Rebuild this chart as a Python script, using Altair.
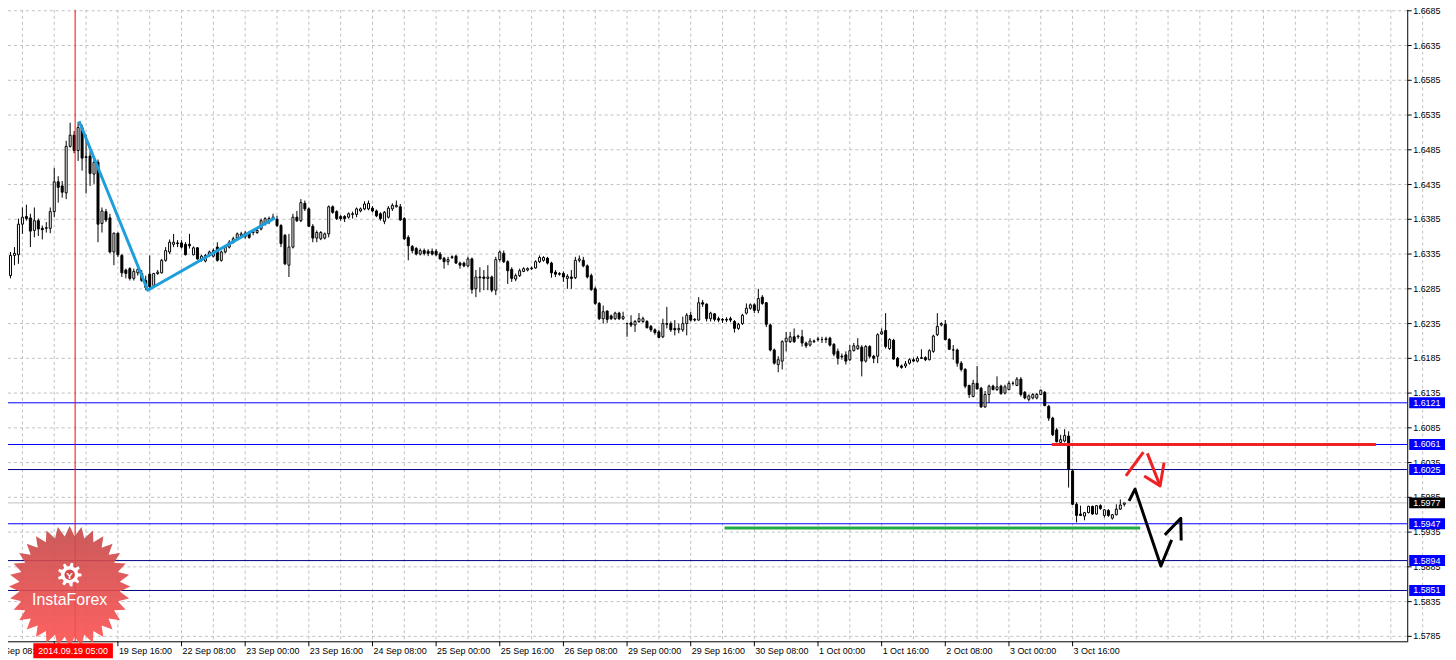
import altair as alt
import pandas as pd
import numpy as np

# ---------------- candle data (hourly bars, index = bar number) ----------------
opens = [1.6295,1.6302,1.6304,1.6333,1.6334,1.6378,1.6389,1.6387,1.6369,1.6383,
1.6372,1.6372,1.6372,1.6396,1.6439,1.6433,1.6423,1.6490,1.6506,1.6484,
1.6517,1.6475,1.6476,1.6450,1.6467,1.6379,1.6396,1.6387,1.6338,1.6365,
1.6333,1.6312,1.6314,1.6300,1.6308,1.6307,1.6297,1.6306,1.6290,1.6307,
1.6308,1.6326,1.6338,1.6349,1.6351,1.6351,1.6349,1.6349,1.6334,1.6344,
1.6326,1.6325,1.6333,1.6332,1.6345,1.6326,1.6338,1.6345,1.6352,1.6358,
1.6362,1.6360,1.6366,1.6366,1.6366,1.6371,1.6378,1.6381,1.6386,1.6385,
1.6376,1.6362,1.6319,1.6345,1.6388,1.6383,1.6408,1.6400,1.6375,1.6358,
1.6357,1.6358,1.6364,1.6403,1.6396,1.6389,1.6389,1.6388,1.6392,1.6392,
1.6397,1.6400,1.6400,1.6401,1.6397,1.6393,1.6382,1.6388,1.6400,1.6403,
1.6403,1.6386,1.6359,1.6346,1.6343,1.6335,1.6340,1.6339,1.6339,1.6339,
1.6335,1.6329,1.6324,1.6331,1.6332,1.6322,1.6322,1.6318,1.6328,1.6285,
1.6302,1.6302,1.6300,1.6302,1.6283,1.6327,1.6336,1.6324,1.6313,1.6299,
1.6304,1.6310,1.6312,1.6314,1.6315,1.6324,1.6326,1.6329,1.6322,1.6309,
1.6307,1.6307,1.6300,1.6302,1.6301,1.6326,1.6326,1.6318,1.6304,1.6285,
1.6264,1.6242,1.6253,1.6246,1.6242,1.6250,1.6242,1.6235,1.6236,1.6233,
1.6238,1.6238,1.6238,1.6231,1.6226,1.6223,1.6216,1.6235,1.6235,1.6228,
1.6226,1.6226,1.6235,1.6247,1.6241,1.6240,1.6265,1.6263,1.6242,1.6249,
1.6242,1.6241,1.6241,1.6242,1.6238,1.6228,1.6235,1.6250,1.6257,1.6262,
1.6254,1.6273,1.6265,1.6233,1.6197,1.6176,1.6181,1.6209,1.6209,1.6216,
1.6216,1.6216,1.6207,1.6204,1.6209,1.6212,1.6212,1.6213,1.6214,1.6205,
1.6195,1.6188,1.6190,1.6183,1.6196,1.6199,1.6201,1.6181,1.6202,1.6188,
1.6188,1.6220,1.6225,1.6199,1.6211,1.6185,1.6174,1.6174,1.6178,1.6183,
1.6181,1.6186,1.6186,1.6183,1.6195,1.6219,1.6233,1.6234,1.6212,1.6197,
1.6197,1.6178,1.6169,1.6146,1.6130,1.6149,1.6142,1.6115,1.6133,1.6145,
1.6140,1.6145,1.6135,1.6140,1.6149,1.6146,1.6155,1.6136,1.6126,1.6128,
1.6128,1.6133,1.6136,1.6116,1.6099,1.6082,1.6064,1.6066,1.6073,1.6023,
1.5975,1.5961,1.5958,1.5963,1.5972,1.5961,1.5973,1.5959,1.5966,1.5955,
1.5960,1.5968,1.5975]
highs = [1.6307,1.6316,1.6338,1.6345,1.6386,1.6402,1.6406,1.6393,1.6402,1.6386,
1.6376,1.6381,1.6402,1.6459,1.6447,1.6440,1.6498,1.6524,1.6512,1.6525,
1.6521,1.6507,1.6483,1.6471,1.6471,1.6402,1.6400,1.6393,1.6366,1.6366,
1.6335,1.6314,1.6316,1.6314,1.6314,1.6312,1.6304,1.6333,1.6308,1.6312,
1.6328,1.6345,1.6356,1.6364,1.6355,1.6355,1.6352,1.6364,1.6346,1.6345,
1.6334,1.6335,1.6340,1.6343,1.6352,1.6340,1.6348,1.6355,1.6360,1.6366,
1.6367,1.6368,1.6368,1.6371,1.6373,1.6386,1.6388,1.6389,1.6393,1.6390,
1.6378,1.6364,1.6364,1.6393,1.6397,1.6414,1.6412,1.6402,1.6378,1.6369,
1.6368,1.6366,1.6405,1.6405,1.6398,1.6391,1.6391,1.6395,1.6396,1.6402,
1.6402,1.6411,1.6412,1.6404,1.6399,1.6395,1.6397,1.6404,1.6408,1.6412,
1.6407,1.6388,1.6362,1.6348,1.6345,1.6343,1.6343,1.6342,1.6343,1.6342,
1.6338,1.6331,1.6331,1.6333,1.6334,1.6324,1.6324,1.6331,1.6330,1.6312,
1.6316,1.6312,1.6319,1.6304,1.6331,1.6340,1.6340,1.6326,1.6316,1.6307,
1.6314,1.6316,1.6316,1.6317,1.6326,1.6333,1.6332,1.6331,1.6324,1.6312,
1.6309,1.6310,1.6306,1.6312,1.6331,1.6333,1.6331,1.6320,1.6307,1.6288,
1.6266,1.6261,1.6254,1.6248,1.6252,1.6252,1.6252,1.6236,1.6247,1.6240,
1.6250,1.6245,1.6240,1.6233,1.6228,1.6226,1.6242,1.6259,1.6238,1.6240,
1.6235,1.6245,1.6250,1.6252,1.6243,1.6273,1.6269,1.6264,1.6252,1.6250,
1.6245,1.6243,1.6244,1.6245,1.6240,1.6236,1.6249,1.6264,1.6264,1.6264,
1.6285,1.6276,1.6266,1.6235,1.6199,1.6188,1.6211,1.6223,1.6223,1.6228,
1.6219,1.6226,1.6209,1.6214,1.6212,1.6216,1.6216,1.6216,1.6216,1.6207,
1.6199,1.6192,1.6195,1.6204,1.6207,1.6214,1.6204,1.6204,1.6204,1.6190,
1.6221,1.6228,1.6250,1.6214,1.6213,1.6187,1.6176,1.6181,1.6185,1.6186,
1.6188,1.6198,1.6188,1.6198,1.6219,1.6250,1.6237,1.6240,1.6214,1.6204,
1.6199,1.6181,1.6171,1.6147,1.6154,1.6174,1.6144,1.6138,1.6147,1.6147,
1.6159,1.6147,1.6147,1.6152,1.6152,1.6158,1.6158,1.6138,1.6133,1.6135,
1.6135,1.6140,1.6138,1.6118,1.6101,1.6085,1.6075,1.6083,1.6080,1.6026,
1.5978,1.5973,1.5964,1.5973,1.5973,1.5974,1.5975,1.5968,1.5968,1.5961,
1.5975,1.5982,1.5977]
lows = [1.6294,1.6300,1.6300,1.6319,1.6321,1.6364,1.6383,1.6345,1.6359,1.6361,
1.6356,1.6366,1.6365,1.6388,1.6409,1.6416,1.6414,1.6488,1.6480,1.6469,
1.6455,1.6422,1.6433,1.6436,1.6352,1.6366,1.6381,1.6336,1.6319,1.6331,
1.6302,1.6300,1.6297,1.6297,1.6304,1.6295,1.6283,1.6283,1.6289,1.6305,
1.6307,1.6324,1.6335,1.6345,1.6345,1.6343,1.6333,1.6343,1.6333,1.6327,
1.6324,1.6323,1.6331,1.6330,1.6324,1.6324,1.6336,1.6343,1.6350,1.6355,
1.6360,1.6357,1.6357,1.6362,1.6364,1.6369,1.6376,1.6378,1.6384,1.6374,
1.6345,1.6319,1.6302,1.6343,1.6381,1.6381,1.6397,1.6374,1.6352,1.6352,
1.6355,1.6356,1.6359,1.6393,1.6384,1.6383,1.6381,1.6386,1.6386,1.6388,
1.6395,1.6398,1.6398,1.6395,1.6388,1.6383,1.6378,1.6386,1.6397,1.6402,
1.6383,1.6355,1.6326,1.6336,1.6333,1.6333,1.6333,1.6332,1.6333,1.6332,
1.6327,1.6314,1.6319,1.6328,1.6321,1.6314,1.6316,1.6316,1.6278,1.6273,
1.6280,1.6283,1.6283,1.6280,1.6276,1.6324,1.6322,1.6292,1.6295,1.6296,
1.6302,1.6309,1.6310,1.6312,1.6314,1.6322,1.6324,1.6320,1.6301,1.6302,
1.6304,1.6295,1.6285,1.6285,1.6299,1.6323,1.6316,1.6300,1.6282,1.6262,
1.6240,1.6235,1.6236,1.6240,1.6240,1.6240,1.6240,1.6216,1.6230,1.6223,
1.6236,1.6236,1.6228,1.6223,1.6219,1.6214,1.6214,1.6228,1.6223,1.6218,
1.6221,1.6223,1.6218,1.6238,1.6238,1.6239,1.6259,1.6238,1.6238,1.6238,
1.6237,1.6236,1.6237,1.6237,1.6222,1.6226,1.6233,1.6248,1.6255,1.6250,
1.6250,1.6262,1.6230,1.6195,1.6176,1.6165,1.6169,1.6195,1.6207,1.6207,
1.6213,1.6202,1.6200,1.6202,1.6207,1.6209,1.6207,1.6207,1.6202,1.6188,
1.6176,1.6183,1.6176,1.6181,1.6195,1.6197,1.6159,1.6179,1.6185,1.6178,
1.6178,1.6219,1.6199,1.6197,1.6183,1.6172,1.6170,1.6171,1.6176,1.6180,
1.6179,1.6184,1.6181,1.6182,1.6193,1.6217,1.6231,1.6211,1.6197,1.6183,
1.6173,1.6166,1.6142,1.6128,1.6129,1.6140,1.6114,1.6114,1.6121,1.6139,
1.6138,1.6133,1.6133,1.6139,1.6146,1.6145,1.6130,1.6126,1.6123,1.6126,
1.6126,1.6132,1.6116,1.6095,1.6073,1.6064,1.6061,1.6064,1.5999,1.5974,
1.5949,1.5958,1.5952,1.5962,1.5960,1.5960,1.5967,1.5956,1.5957,1.5953,
1.5959,1.5967,1.5972]
closes = [1.6303,1.6306,1.6333,1.6336,1.6378,1.6388,1.6386,1.6368,1.6383,1.6371,
1.6370,1.6373,1.6396,1.6439,1.6431,1.6424,1.6490,1.6506,1.6484,1.6517,
1.6473,1.6474,1.6451,1.6467,1.6378,1.6397,1.6384,1.6338,1.6365,1.6334,
1.6308,1.6307,1.6300,1.6310,1.6313,1.6297,1.6287,1.6288,1.6307,1.6309,
1.6326,1.6340,1.6352,1.6352,1.6350,1.6345,1.6334,1.6347,1.6344,1.6328,
1.6332,1.6333,1.6338,1.6340,1.6326,1.6338,1.6345,1.6352,1.6357,1.6364,
1.6364,1.6365,1.6359,1.6367,1.6369,1.6383,1.6386,1.6386,1.6388,1.6376,
1.6350,1.6321,1.6345,1.6388,1.6383,1.6409,1.6400,1.6375,1.6358,1.6366,
1.6366,1.6364,1.6403,1.6395,1.6386,1.6386,1.6386,1.6393,1.6393,1.6400,
1.6400,1.6407,1.6408,1.6397,1.6390,1.6386,1.6395,1.6401,1.6405,1.6405,
1.6384,1.6357,1.6347,1.6340,1.6335,1.6340,1.6336,1.6336,1.6335,1.6334,
1.6328,1.6324,1.6327,1.6330,1.6322,1.6319,1.6318,1.6328,1.6284,1.6302,
1.6301,1.6300,1.6302,1.6283,1.6327,1.6338,1.6324,1.6311,1.6300,1.6304,
1.6311,1.6314,1.6314,1.6315,1.6324,1.6330,1.6330,1.6322,1.6308,1.6306,
1.6306,1.6302,1.6303,1.6300,1.6326,1.6328,1.6318,1.6302,1.6284,1.6264,
1.6242,1.6252,1.6241,1.6242,1.6250,1.6242,1.6245,1.6235,1.6233,1.6238,
1.6242,1.6242,1.6229,1.6226,1.6222,1.6215,1.6235,1.6234,1.6226,1.6226,
1.6228,1.6235,1.6247,1.6240,1.6240,1.6265,1.6263,1.6242,1.6250,1.6241,
1.6240,1.6240,1.6240,1.6240,1.6228,1.6234,1.6247,1.6257,1.6262,1.6254,
1.6271,1.6264,1.6234,1.6197,1.6178,1.6183,1.6209,1.6214,1.6216,1.6209,
1.6217,1.6207,1.6203,1.6210,1.6210,1.6213,1.6212,1.6212,1.6204,1.6191,
1.6185,1.6187,1.6181,1.6196,1.6203,1.6203,1.6181,1.6202,1.6188,1.6185,
1.6219,1.6223,1.6202,1.6212,1.6184,1.6174,1.6172,1.6177,1.6183,1.6181,
1.6185,1.6185,1.6183,1.6196,1.6217,1.6231,1.6235,1.6212,1.6198,1.6197,
1.6178,1.6169,1.6145,1.6133,1.6149,1.6141,1.6115,1.6133,1.6145,1.6140,
1.6144,1.6134,1.6144,1.6149,1.6149,1.6155,1.6133,1.6128,1.6131,1.6133,
1.6133,1.6139,1.6117,1.6099,1.6075,1.6065,1.6068,1.6074,1.6025,1.5975,
1.5959,1.5959,1.5963,1.5972,1.5961,1.5973,1.5969,1.5967,1.5959,1.5960,
1.5968,1.5974,1.5977]

# ---------------- axes ----------------
price_ticks = [1.5785, 1.5835, 1.5885, 1.5935, 1.5985, 1.6035, 1.6085, 1.6135, 1.6185,
               1.6235, 1.6285, 1.6335, 1.6385, 1.6435, 1.6485, 1.6535, 1.6585, 1.6635, 1.6685]
time_labels = ['18 Sep 08:00', '19 Sep 00:00', '19 Sep 16:00', '22 Sep 08:00', '23 Sep 00:00',
               '23 Sep 16:00', '24 Sep 08:00', '25 Sep 00:00', '25 Sep 16:00', '26 Sep 08:00',
               '29 Sep 00:00', '29 Sep 16:00', '30 Sep 08:00', '1 Oct 00:00', '1 Oct 16:00',
               '2 Oct 08:00', '3 Oct 00:00', '3 Oct 16:00']
first_label_bar = -3
label_step = 16
grid_first_bar = 5
grid_step = 8

# ---------------- levels & annotations ----------------
level_prices = [1.6121, 1.6061, 1.6025, 1.5947, 1.5894, 1.5851]
level_colors = ['#0000FF', '#0000FF', '#000080', '#0000FF', '#000080', '#000080']
bid_price = 1.5977

marker_bar = 18.25
marker_label = '2014.09.19 05:00'

blue_t = [19.25, 36.5, 68.5]
blue_p = [1.6526, 1.6283, 1.6387]

red_seg_t = [263.75, 345.25]
red_seg_p = 1.6061
green_seg_t = [181.5, 286.0]
green_seg_p = 1.5941

red_arrow_g = ['a', 'a', 'b', 'b', 'c', 'c', 'c']
red_arrow_t = [282.4, 286.8, 287.8, 291.0, 287.0, 291.0, 292.0]
red_arrow_p = [1.60158, 1.60502, 1.60483, 1.60015, 1.60158, 1.60015, 1.60350]

black_g = ['d', 'd', 'd', 'd', 'e', 'e', 'e']
black_t = [283.2, 284.7, 291.2, 293.9, 292.2, 296.2, 296.3]
black_p = [1.59800, 1.59968, 1.58862, 1.59238, 1.59310, 1.59549, 1.59228]

FONT = 'Liberation Sans'
W, H = 1407, 635

# ---------------- frames ----------------
n = len(closes)
candles = pd.DataFrame({'t': np.arange(n), 'open': opens, 'high': highs,
                        'low': lows, 'close': closes})
vgrid = pd.DataFrame({'t': np.arange(grid_first_bar, 360, grid_step)})
hgrid = pd.DataFrame({'p': price_ticks, 'label': [f'{v:.4f}' for v in price_ticks]})
xticks = pd.DataFrame({'t': [first_label_bar + label_step * k for k in range(len(time_labels))],
                       'label': time_labels})
levels = pd.DataFrame({'p': level_prices, 'c': level_colors,
                       'label': [f'{v:.4f}' for v in level_prices]})
bid = pd.DataFrame({'p': [bid_price], 'label': [f'{bid_price:.4f}']})
blue_df = pd.DataFrame({'t': blue_t, 'p': blue_p, 'k': range(len(blue_t))})
red_seg = pd.DataFrame({'t': [red_seg_t[0]], 't2': [red_seg_t[1]], 'p': [red_seg_p]})
green_seg = pd.DataFrame({'t': [green_seg_t[0]], 't2': [green_seg_t[1]], 'p': [green_seg_p]})
red_arrow = pd.DataFrame({'g': red_arrow_g, 't': red_arrow_t, 'p': red_arrow_p,
                          'k': range(len(red_arrow_t))})
black_df = pd.DataFrame({'g': black_g, 't': black_t, 'p': black_p, 'k': range(len(black_t))})
one = pd.DataFrame({'a': [0]})
marker = pd.DataFrame({'t': [marker_bar], 't0': [marker_bar - 10.5], 't1': [marker_bar + 9.5],
                       'tc': [marker_bar - 0.5], 'label': [marker_label]})

xs = alt.Scale(domain=[1.375, 353.125], nice=False, zero=False, padding=0)
ys = alt.Scale(domain=[1.57779, 1.66864], nice=False, zero=False, padding=0)


def X(f='t'):
    return alt.X(f'{f}:Q', scale=xs, axis=None)


def Y(f='p'):
    return alt.Y(f'{f}:Q', scale=ys, axis=None)


# grid
vgrid_layer = alt.Chart(vgrid).mark_rule(color='#C0C0C0', strokeDash=[3, 3], strokeWidth=1).encode(
    x=X('t'))
hgrid_layer = alt.Chart(hgrid).mark_rule(color='#C0C0C0', strokeDash=[3, 3], strokeWidth=1).encode(
    y=Y('p'))

# levels
level_layer = alt.Chart(levels).mark_rule(strokeWidth=1).encode(
    y=Y('p'), color=alt.Color('c:N', scale=None))
bid_layer = alt.Chart(bid).mark_rule(color='#C0C0C0', strokeWidth=1).encode(y=Y('p'))

# candles
wicks = alt.Chart(candles).mark_rule(color='black', strokeWidth=1).encode(
    x=X('t'), y=Y('low'), y2='high:Q')
bodies = alt.Chart(candles).mark_bar(width=2, stroke='black', strokeWidth=1).encode(
    x=X('t'), y=Y('open'), y2='close:Q',
    fill=alt.condition(alt.datum.close >= alt.datum.open, alt.value('white'), alt.value('black')))

# marker line
vline = alt.Chart(marker).mark_rule(color='#FF0000', strokeWidth=1).encode(x=X('t'))

# annotations
blue_line = alt.Chart(blue_df).mark_line(color='#1E9FDB', strokeWidth=3, strokeJoin='round').encode(
    x=X('t'), y=Y('p'), order='k:Q')
red_seg_layer = alt.Chart(red_seg).mark_rule(color='#EE2222', strokeWidth=3).encode(
    x=X('t'), x2='t2:Q', y=Y('p'))
green_seg_layer = alt.Chart(green_seg).mark_rule(color='#22AA44', strokeWidth=3).encode(
    x=X('t'), x2='t2:Q', y=Y('p'))
red_arrow_layer = alt.Chart(red_arrow).mark_line(color='#EE2222', strokeWidth=3, strokeJoin='round').encode(
    x=X('t'), y=Y('p'), detail='g:N', order='k:Q')
black_layer = alt.Chart(black_df).mark_line(color='black', strokeWidth=3, strokeJoin='round').encode(
    x=X('t'), y=Y('p'), detail='g:N', order='k:Q')

# axes (right price axis, bottom time axis)
y_domain = alt.Chart(one).mark_rule(color='black', strokeWidth=1).encode(
    x=alt.value(W + 0.5), y=alt.value(0), y2=alt.value(H))
y_ticks = alt.Chart(hgrid).mark_rule(color='black', strokeWidth=1).encode(
    x=alt.value(W + 0.5), x2=alt.value(W + 4.5), y=Y('p'))
y_labels = alt.Chart(hgrid).mark_text(align='left', baseline='middle', color='black',
                                      fontSize=9, font=FONT).encode(
    x=alt.value(W + 6), y=Y('p'), text='label:N')
x_domain = alt.Chart(one).mark_rule(color='black', strokeWidth=1).encode(
    x=alt.value(0), x2=alt.value(W + 1), y=alt.value(H + 0.5))
x_ticks = alt.Chart(xticks).mark_rule(color='black', strokeWidth=1).encode(
    x=X('t'), y=alt.value(H), y2=alt.value(H + 5))
x_labels = alt.Chart(xticks).mark_text(align='left', baseline='middle', color='black',
                                       fontSize=9, font=FONT, dx=1).encode(
    x=X('t'), y=alt.value(H + 10), text='label:N')

# logo (watermark)
n_sp = 32
ang = np.linspace(0, 2 * np.pi, 2 * n_sp, endpoint=False)
rad = np.where(np.arange(2 * n_sp) % 2 == 0, 1.0, 0.83)
star_path = 'M' + ' L'.join(f'{r*np.sin(a):.4f},{-r*np.cos(a):.4f}' for r, a in zip(rad, ang)) + ' Z'
g_teeth = 9
gpts = []
for k in range(g_teeth):
    b = 2 * np.pi * k / g_teeth
    s = 2 * np.pi / g_teeth
    for r, a in [(0.72, b), (1.0, b + 0.15 * s), (1.0, b + 0.45 * s), (0.72, b + 0.6 * s)]:
        gpts.append(f'{r*np.sin(a):.4f},{-r*np.cos(a):.4f}')
gear_path = 'M' + ' L'.join(gpts) + ' Z'

grad = alt.LinearGradient(gradient='linear',
                          stops=[alt.GradientStop(color='#C44848', offset=0),
                                 alt.GradientStop(color='#FF5050', offset=1)],
                          x1=0, x2=0, y1=0, y2=1)
logo_star = alt.Chart(one).mark_point(shape=star_path, size=122 * 122, filled=True, fill=grad,
                                      opacity=0.9, strokeWidth=0).encode(
    x=alt.value(62), y=alt.value(580))
logo_gear = alt.Chart(one).mark_point(shape=gear_path, size=24 * 24, filled=True, fill='white',
                                      opacity=1, strokeWidth=0).encode(
    x=alt.value(62), y=alt.value(568))
logo_hole = alt.Chart(one).mark_point(shape='circle', size=110, filled=True, fill='#D84A4A',
                                      opacity=1, strokeWidth=0).encode(
    x=alt.value(62), y=alt.value(568))
logo_y = alt.Chart(one).mark_text(text='Y', color='white', fontSize=10, fontWeight='bold',
                                  font=FONT).encode(x=alt.value(62), y=alt.value(569))
logo_text = alt.Chart(one).mark_text(text='InstaForex', color='white', fontSize=16,
                                     font=FONT).encode(x=alt.value(62), y=alt.value(594))

# right-side price boxes
level_box = alt.Chart(levels).mark_tick(orient='horizontal', size=36, thickness=11,
                                        color='#0000FF', opacity=1).encode(
    x=alt.value(W + 20), y=Y('p'))
level_text = alt.Chart(levels).mark_text(align='left', baseline='middle', color='white',
                                         fontSize=9, font=FONT).encode(
    x=alt.value(W + 6), y=Y('p'), text='label:N')
bid_box = alt.Chart(bid).mark_tick(orient='horizontal', size=36, thickness=11,
                                   color='black', opacity=1).encode(
    x=alt.value(W + 20), y=Y('p'))
bid_text = alt.Chart(bid).mark_text(align='left', baseline='middle', color='white',
                                    fontSize=9, font=FONT).encode(
    x=alt.value(W + 6), y=Y('p'), text='label:N')

# bottom time marker box
mbox = alt.Chart(marker).mark_rect(color='#FF0000').encode(
    x=X('t0'), x2='t1:Q', y=alt.value(H + 2), y2=alt.value(H + 17))
mtext = alt.Chart(marker).mark_text(color='white', fontSize=9, font=FONT,
                                    baseline='middle').encode(
    x=X('tc'), y=alt.value(H + 10), text='label:N')

chart = alt.layer(
    vgrid_layer, hgrid_layer, level_layer, bid_layer, wicks, bodies, vline,
    blue_line, red_seg_layer, green_seg_layer, red_arrow_layer, black_layer,
    y_domain, y_ticks, y_labels, x_domain, x_ticks, x_labels,
    logo_star, logo_gear, logo_hole, logo_y, logo_text,
    level_box, level_text, bid_box, bid_text, mbox, mtext
).properties(
    width=W, height=H,
    autosize=alt.AutoSizeParams(type='none'),
    padding={'left': 0, 'top': 0, 'right': 41, 'bottom': 17}
).configure_view(strokeWidth=0, stroke='transparent')

chart.save('out.html', embed_options={'renderer': 'svg', 'actions': False})
